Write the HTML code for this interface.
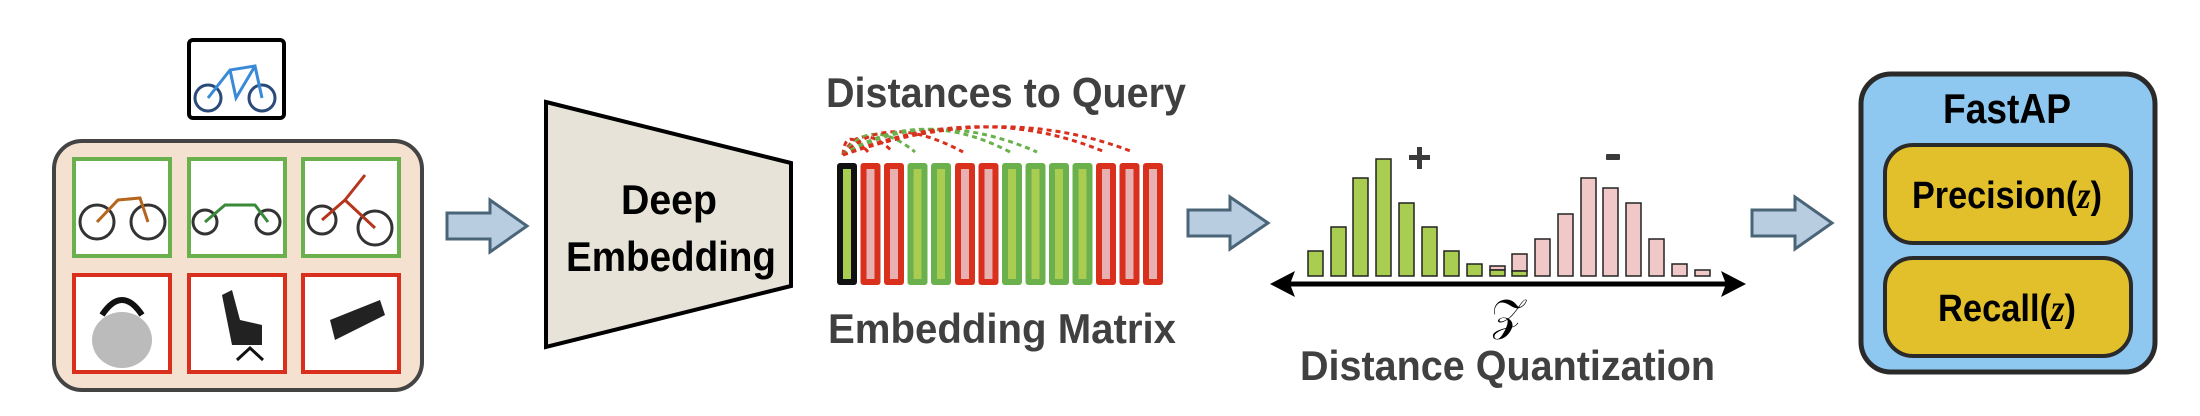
<!DOCTYPE html>
<html><head><meta charset="utf-8"><style>
html,body{margin:0;padding:0;background:#fff;width:2200px;height:416px;overflow:hidden}
svg{display:block}
text{font-family:"Liberation Sans",sans-serif;font-weight:bold}
</style></head><body>
<svg width="2200" height="416" viewBox="0 0 2200 416" xmlns="http://www.w3.org/2000/svg">
<!-- query -->
<rect x="189" y="40" width="95" height="78" rx="4" fill="#fff" stroke="#000" stroke-width="4"/>
<g fill="none" stroke="#2a4a7a" stroke-width="3">
<circle cx="208" cy="98" r="13"/><circle cx="262" cy="98" r="13"/>
<path d="M208 98 L230 70 L255 66 L262 98 M230 70 L236 98 L255 66" stroke="#3a8ad8"/>
</g>
<!-- panel -->
<rect x="54" y="141" width="368" height="249" rx="28" fill="#f5e1d0" stroke="#444" stroke-width="4"/>
<g stroke-width="4" fill="#fff">
<rect x="74" y="159" width="96" height="97" stroke="#6ab04c"/>
<rect x="189" y="159" width="96" height="97" stroke="#6ab04c"/>
<rect x="303" y="159" width="96" height="97" stroke="#6ab04c"/>
<rect x="74" y="275" width="96" height="97" stroke="#d9301e"/>
<rect x="189" y="275" width="96" height="97" stroke="#d9301e"/>
<rect x="303" y="275" width="96" height="97" stroke="#d9301e"/>
</g>
<g fill="none" stroke="#333" stroke-width="3">
<circle cx="97" cy="222" r="17"/><circle cx="148" cy="222" r="17"/><path d="M97 222 L118 200 L140 198 L148 222" stroke="#b5651d"/>
<circle cx="205" cy="222" r="12"/><circle cx="268" cy="222" r="12"/><path d="M205 222 L225 205 L255 205 L268 222" stroke="#3a8a3a"/>
<circle cx="322" cy="220" r="14"/><circle cx="375" cy="228" r="17"/><path d="M322 220 L345 200 L375 228 M345 200 L365 175" stroke="#b5361d"/>
</g>
<ellipse cx="122" cy="340" rx="30" ry="28" fill="#bbb"/><path d="M102 315 Q122 285 142 315" fill="none" stroke="#111" stroke-width="6"/>
<path d="M222 295 L232 345 L262 345 L262 325 L240 320 L232 290Z" fill="#222"/><path d="M237 360 L250 348 L263 360" stroke="#111" stroke-width="3" fill="none"/>
<path d="M330 320 L380 300 L385 315 L335 340Z" fill="#222"/>
<!-- arrows -->
<g fill="#b9cde0" stroke="#4a6478" stroke-width="3">
<path d="M447 213 L490 213 L490 200 L527 226 L490 252 L490 239 L447 239Z"/>
<path d="M1188 210 L1230 210 L1230 197 L1268 223 L1230 249 L1230 236 L1188 236Z"/>
<path d="M1752 210 L1795 210 L1795 197 L1832 223 L1795 249 L1795 236 L1752 236Z"/>
</g>
<!-- trapezoid -->
<path d="M546 102 L791 163 L791 286 L546 347Z" fill="#e8e3d8" stroke="#000" stroke-width="4" stroke-linejoin="miter"/>
<text x="669" y="214" font-size="42" text-anchor="middle" textLength="96" lengthAdjust="spacingAndGlyphs">Deep</text>
<text x="671" y="271" font-size="42" text-anchor="middle" textLength="210" lengthAdjust="spacingAndGlyphs">Embedding</text>
<!-- distances -->
<text x="826" y="107" font-size="42" fill="#404040" textLength="360" lengthAdjust="spacingAndGlyphs">Distances to Query</text>
<text x="828" y="343" font-size="42" fill="#404040" textLength="348" lengthAdjust="spacingAndGlyphs">Embedding Matrix</text>
<g fill="none" stroke-width="3" stroke-dasharray="5 4">
<path d="M843 155 Q845 125 868 152" stroke="#d9301e"/>
<path d="M843 155 Q860 120 893 152" stroke="#d9301e"/>
<path d="M843 155 Q870 115 915 152" stroke="#6ab04c"/>
<path d="M843 155 Q885 110 963 152" stroke="#d9301e"/>
<path d="M843 155 Q920 105 1010 152" stroke="#6ab04c"/>
<path d="M843 155 Q930 105 1037 152" stroke="#6ab04c"/>
<path d="M843 155 Q980 100 1105 152" stroke="#d9301e"/>
<path d="M843 155 Q1000 100 1133 152" stroke="#d9301e"/>
</g>
<g>
<rect x="837" y="163" width="20" height="122" rx="3" fill="#111"/><rect x="843" y="169" width="8" height="110" fill="#a8cd50"/>
<g fill="#d9301e"><rect x="860.5" y="163" width="20" height="122" rx="3"/><rect x="884" y="163" width="20" height="122" rx="3"/><rect x="955" y="163" width="20" height="122" rx="3"/><rect x="978.5" y="163" width="20" height="122" rx="3"/><rect x="1096" y="163" width="20" height="122" rx="3"/><rect x="1119.5" y="163" width="20" height="122" rx="3"/><rect x="1143" y="163" width="20" height="122" rx="3"/></g>
<g fill="#6ab04c"><rect x="907.5" y="163" width="20" height="122" rx="3"/><rect x="931" y="163" width="20" height="122" rx="3"/><rect x="1002" y="163" width="20" height="122" rx="3"/><rect x="1025.5" y="163" width="20" height="122" rx="3"/><rect x="1049" y="163" width="20" height="122" rx="3"/><rect x="1072.5" y="163" width="20" height="122" rx="3"/></g>
<g fill="#e8b0b0"><rect x="866.5" y="169" width="8" height="110"/><rect x="890" y="169" width="8" height="110"/><rect x="961" y="169" width="8" height="110"/><rect x="984.5" y="169" width="8" height="110"/><rect x="1102" y="169" width="8" height="110"/><rect x="1125.5" y="169" width="8" height="110"/><rect x="1149" y="169" width="8" height="110"/></g>
<g fill="#a8cd50"><rect x="913.5" y="169" width="8" height="110"/><rect x="937" y="169" width="8" height="110"/><rect x="1008" y="169" width="8" height="110"/><rect x="1031.5" y="169" width="8" height="110"/><rect x="1055" y="169" width="8" height="110"/><rect x="1078.5" y="169" width="8" height="110"/></g>
</g>
<!-- histogram -->
<g stroke="#222" stroke-width="1.5">
<g fill="#a8cd50">
<rect x="1308" y="251" width="15" height="25"/><rect x="1331" y="227" width="15" height="49"/><rect x="1353" y="178" width="15" height="98"/><rect x="1376" y="159" width="15" height="117"/><rect x="1399" y="203" width="15" height="73"/><rect x="1422" y="227" width="15" height="49"/><rect x="1444" y="251" width="15" height="25"/><rect x="1467" y="264" width="15" height="12"/>
</g>
<rect x="1490" y="266" width="15" height="4" fill="#f0c8c8"/><rect x="1490" y="270" width="15" height="6" fill="#a8cd50"/>
<rect x="1512" y="254" width="15" height="17" fill="#f0c8c8"/><rect x="1512" y="271" width="15" height="5" fill="#a8cd50"/>
<g fill="#f0c8c8">
<rect x="1535" y="239" width="15" height="37"/><rect x="1558" y="214" width="15" height="62"/><rect x="1581" y="178" width="15" height="98"/><rect x="1603" y="188" width="15" height="88"/><rect x="1626" y="203" width="15" height="73"/><rect x="1649" y="239" width="15" height="37"/><rect x="1672" y="264" width="15" height="12"/><rect x="1695" y="270" width="15" height="6"/>
</g>
</g>
<line x1="1280" y1="284" x2="1735" y2="284" stroke="#000" stroke-width="5"/>
<path d="M1270 284 L1295 271 L1290 284 L1295 297Z M1746 284 L1721 271 L1726 284 L1721 297Z" fill="#000"/>
<rect x="1409" y="155" width="21" height="5" fill="#3a3a3a"/><rect x="1417" y="147" width="5" height="22" fill="#3a3a3a"/>
<rect x="1606" y="154" width="14" height="6" rx="1" fill="#3a3a3a"/>
<text x="1508" y="330" font-size="44" text-anchor="middle" style="font-family:'Liberation Serif',serif;font-weight:normal">𝒵</text>
<text x="1300" y="380" font-size="42" fill="#404040" textLength="415" lengthAdjust="spacingAndGlyphs">Distance Quantization</text>
<!-- FastAP -->
<rect x="1861" y="74" width="294" height="298" rx="30" fill="#8ec8f0" stroke="#2a2a2a" stroke-width="5"/>
<text x="2007" y="123" font-size="42" text-anchor="middle" textLength="128" lengthAdjust="spacingAndGlyphs">FastAP</text>
<rect x="1885" y="145" width="246" height="98" rx="28" fill="#e2c02c" stroke="#2a2a2a" stroke-width="4"/>
<rect x="1885" y="258" width="246" height="98" rx="28" fill="#e2c02c" stroke="#2a2a2a" stroke-width="4"/>
<text x="2007" y="208" font-size="38" text-anchor="middle" textLength="190" lengthAdjust="spacingAndGlyphs">Precision(<tspan font-style="italic" style="font-family:'Liberation Serif',serif">z</tspan>)</text>
<text x="2007" y="321" font-size="38" text-anchor="middle" textLength="138" lengthAdjust="spacingAndGlyphs">Recall(<tspan font-style="italic" style="font-family:'Liberation Serif',serif">z</tspan>)</text>
</svg>
</body></html>
